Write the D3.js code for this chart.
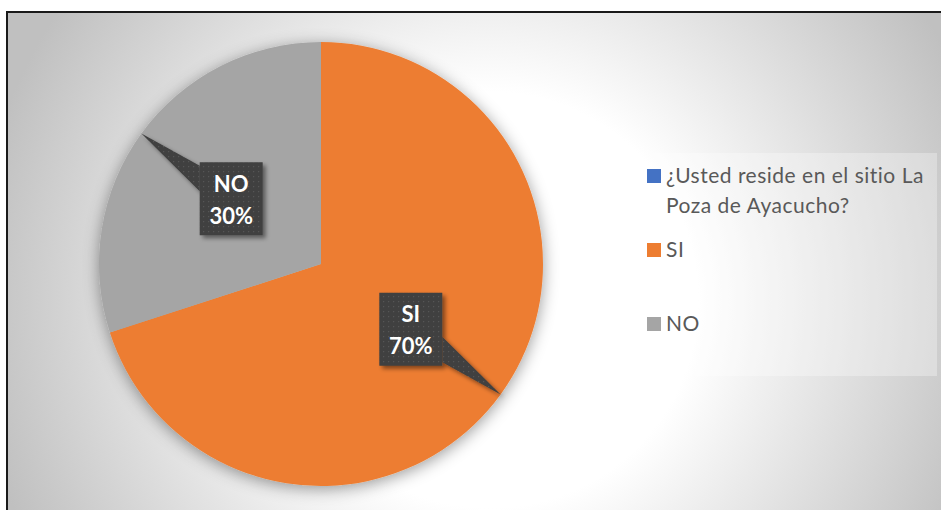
<!DOCTYPE html>
<html>
<head>
<meta charset="utf-8">
<script src="https://cdn.jsdelivr.net/npm/d3@7"></script>
<style>
  html, body { margin: 0; padding: 0; background: #ffffff; }
  svg { display: block; }
</style>
</head>
<body>
<svg id="chart" width="941" height="510"></svg>
<script>
// Survey answers
const categories = ["SI", "NO"];
const values = [70, 30];
const percentLabels = ["70%", "30%"];
const sliceColors = ["#ED7D31", "#A5A5A5"];

// Legend entries (series name first, then categories)
const legendLines = [["¿Usted reside en el sitio La", "Poza de Ayacucho?"], ["SI"], ["NO"]];
const legendColors = ["#4472C4", "#ED7D31", "#A5A5A5"];

const W = 941, H = 510;
const svg = d3.select("#chart");
const defs = svg.append("defs");

// Chart-area background: radial white-to-grey fill
const bg = defs.append("radialGradient")
  .attr("id", "bgGrad")
  .attr("gradientUnits", "userSpaceOnUse")
  .attr("cx", 490).attr("cy", 300).attr("r", 520);
bg.append("stop").attr("offset", 0).attr("stop-color", "#ffffff");
bg.append("stop").attr("offset", 0.4).attr("stop-color", "#ffffff");
bg.append("stop").attr("offset", 1).attr("stop-color", "#c0c0c0");

// Soft shadow under the pie
const pieShadow = defs.append("filter").attr("id", "pieShadow")
  .attr("x", "-20%").attr("y", "-20%").attr("width", "140%").attr("height", "140%");
pieShadow.append("feDropShadow")
  .attr("dx", 0).attr("dy", 3).attr("stdDeviation", 8)
  .attr("flood-color", "#000").attr("flood-opacity", 0.4);

// Shadow for the data-label callouts
const boxShadow = defs.append("filter").attr("id", "boxShadow")
  .attr("x", "-30%").attr("y", "-30%").attr("width", "160%").attr("height", "160%");
boxShadow.append("feDropShadow")
  .attr("dx", 3).attr("dy", 3).attr("stdDeviation", 2)
  .attr("flood-color", "#000").attr("flood-opacity", 0.45);

// Dotted dark texture for callout boxes
const pat = defs.append("pattern").attr("id", "dots")
  .attr("patternUnits", "userSpaceOnUse")
  .attr("width", 5).attr("height", 5);
pat.append("rect").attr("width", 5).attr("height", 5).attr("fill", "#3f3f3f");
pat.append("rect").attr("x", 2).attr("y", 2).attr("width", 1.2).attr("height", 1.2).attr("fill", "#575757");

// Background and frame
svg.append("rect").attr("x", 0).attr("y", 0).attr("width", W).attr("height", H).attr("fill", "#ffffff");
svg.append("rect")
  .attr("x", 7).attr("y", 12).attr("width", W + 40).attr("height", H + 40)
  .attr("fill", "url(#bgGrad)")
  .attr("stroke", "#1a1a1a").attr("stroke-width", 2);

// Pie
const cx = 321, cy = 264, radius = 222;
const pie = d3.pie().sort(null).value(d => d)
  .startAngle(0).endAngle(2 * Math.PI);
const arcs = pie(values);
const arc = d3.arc().innerRadius(0).outerRadius(radius);

const pieG = svg.append("g").attr("transform", `translate(${cx},${cy})`);
pieG.append("g").attr("filter", "url(#pieShadow)")
  .selectAll("path")
  .data(arcs)
  .join("path")
  .attr("d", arc)
  .attr("fill", (d, i) => sliceColors[i]);

// Data-label callouts: box at the slice centroid, pointer to the arc edge
const boxW = 63, boxH = 73;
const labelG = pieG.append("g");
arcs.forEach((d, i) => {
  const mid = (d.startAngle + d.endAngle) / 2;
  const [bx, by] = arc.centroid(d);
  const tx = radius * Math.sin(mid), ty = -radius * Math.cos(mid);
  const side = tx < bx ? -1 : 1;            // pointer leaves from left or right edge
  const vdir = ty < by ? -1 : 1;            // pointer base toward the tip
  const ex = bx + side * boxW / 2;
  const y1 = by + vdir * 7.5, y2 = by + vdir * 33;
  const g = labelG.append("g").attr("filter", "url(#boxShadow)");
  g.append("path")
    .attr("d", `M${tx},${ty}L${ex},${y1}L${ex},${y2}Z`)
    .attr("fill", "url(#dots)");
  g.append("rect")
    .attr("x", bx - boxW / 2).attr("y", by - boxH / 2)
    .attr("width", boxW).attr("height", boxH)
    .attr("fill", "url(#dots)");
  const t = labelG.append("text")
    .attr("text-anchor", "middle")
    .attr("font-family", "Lato, 'Noto Sans', sans-serif")
    .attr("font-weight", "bold")
    .attr("font-size", 22)
    .attr("fill", "#ffffff");
  t.append("tspan").attr("x", bx).attr("y", by - 7).text(categories[i]);
  t.append("tspan").attr("x", bx).attr("y", by + 25).text(percentLabels[i]);
});

// Legend
const legend = svg.append("g");
legend.append("rect")
  .attr("x", 634).attr("y", 153).attr("width", 303).attr("height", 223)
  .attr("fill", "#ffffff").attr("fill-opacity", 0.3);
const legendBaselines = [183, 257, 331];
legendLines.forEach((lines, i) => {
  legend.append("rect")
    .attr("x", 647).attr("y", legendBaselines[i] - 14)
    .attr("width", 14).attr("height", 14)
    .attr("fill", legendColors[i]);
  const t = legend.append("text")
    .attr("font-family", "Lato, 'Noto Sans', sans-serif")
    .attr("font-size", 21)
    .attr("letter-spacing", 0.5)
    .attr("fill", "#595959");
  lines.forEach((s, j) => {
    t.append("tspan").attr("x", 666).attr("y", legendBaselines[i] + j * 30).text(s);
  });
});
</script>
</body>
</html>
